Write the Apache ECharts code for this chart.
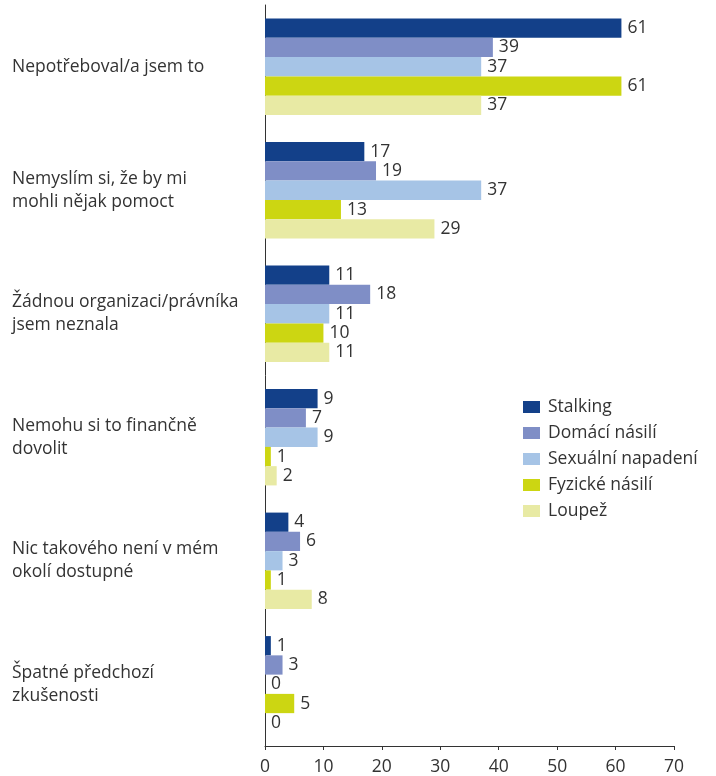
<!DOCTYPE html>
<html lang="cs">
<head>
  <meta charset="UTF-8">
  <title>Důvody</title>
  <script src="https://cdn.jsdelivr.net/npm/echarts@6/dist/echarts.min.js"></script>
  <style>
    html, body { margin: 0; padding: 0; background: #fff; }
  </style>
</head>
<body>
  <div id="chart" style="width: 716px;height: 776px;"></div>

  <script type="text/javascript">
    const categories = [
      'Nepotřeboval/a jsem to',
      'Nemyslím si, že by mi\nmohli nějak pomoct',
      'Žádnou organizaci/právníka\njsem neznala',
      'Nemohu si to finančně\ndovolit',
      'Nic takového není v mém\nokolí dostupné',
      'Špatné předchozí\nzkušenosti',
    ];

    const seriesNames = ['Stalking', 'Domácí násilí', 'Sexuální napadení', 'Fyzické násilí', 'Loupež'];
    const colors = ['#134089', '#7f8ec6', '#a6c4e6', '#ccd612', '#e8eaa4'];

    const stalking = [61, 17, 11, 9, 4, 1];
    const domaci = [39, 19, 18, 7, 6, 3];
    const sexualni = [37, 37, 11, 9, 3, 0];
    const fyzicke = [61, 13, 10, 1, 1, 5];
    const loupez = [37, 29, 11, 2, 8, 0];

    const values = [stalking, domaci, sexualni, fyzicke, loupez];

    const font = '"Open Sans", Lato, sans-serif';
    const fs = 17.5;

    const myChart = echarts.init(document.getElementById('chart'));

    const option = {
      animation: false,
      textStyle: { fontFamily: font },
      legend: {
        orient: 'vertical',
        left: 518,
        top: 393,
        itemWidth: 17,
        itemHeight: 12,
        itemGap: 8,
        icon: 'rect',
        textStyle: { fontSize: fs, color: '#333', fontFamily: font, padding: [0, 0, 0, 3] },
        data: seriesNames,
      },
      grid: {
        left: 265,
        right: 42,
        top: 5,
        bottom: 27,
      },
      xAxis: {
        type: 'value',
        min: 0,
        max: 70,
        interval: 10,
        splitLine: { show: false },
        axisLine: { show: true, lineStyle: { color: '#333', width: 1 } },
        axisTick: { show: true, length: 4, lineStyle: { color: '#333' } },
        axisLabel: { fontSize: fs, color: '#333', margin: 12, fontFamily: font },
      },
      yAxis: {
        type: 'category',
        inverse: true,
        data: categories,
        axisLine: { show: true, lineStyle: { color: '#333', width: 1 } },
        axisTick: { show: false },
        axisLabel: {
          align: 'left',
          margin: 253,
          fontSize: fs,
          lineHeight: 23,
          color: '#333',
          fontFamily: font,
        },
      },
      series: seriesNames.map((name, i) => ({
        name,
        type: 'bar',
        data: values[i],
        barGap: '0%',
        barCategoryGap: '22%',
        itemStyle: { color: colors[i] },
        label: {
          show: true,
          position: 'right',
          distance: 6,
          fontSize: fs,
          color: '#333',
          fontFamily: font,
        },
      })),
    };
    myChart.setOption(option);
  </script>
</body>
</html>
